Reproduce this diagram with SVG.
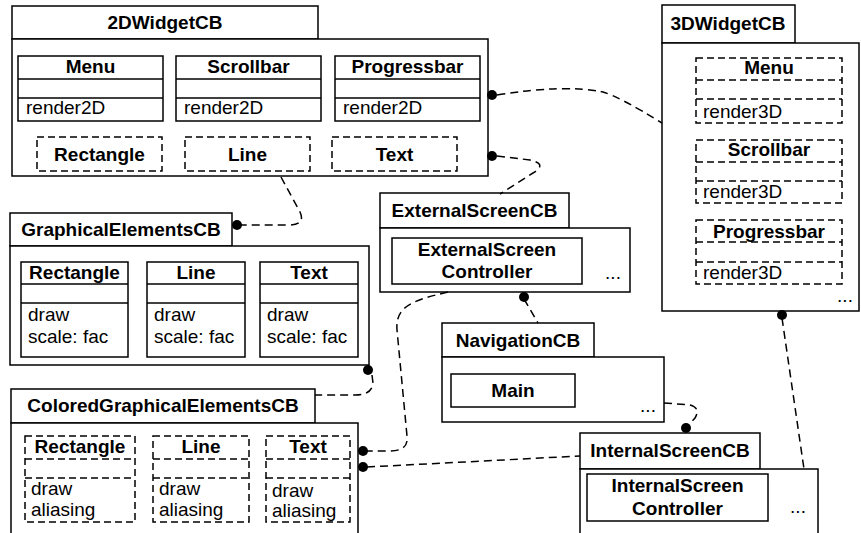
<svg xmlns="http://www.w3.org/2000/svg" width="861" height="533" viewBox="0 0 861 533">
<style>
.b{fill:#fff;stroke:#000;stroke-width:1.5}
.d{fill:#fff;stroke:#000;stroke-width:1.5;stroke-dasharray:7 4}
.l{stroke:#000;stroke-width:1.5;fill:none}
.dl{stroke:#000;stroke-width:1.5;fill:none;stroke-dasharray:7 4}
.c{stroke:#000;stroke-width:1.5;fill:none;stroke-dasharray:8 5}
.dot{fill:#000}
text{font-family:"Liberation Sans",Arial,Helvetica,sans-serif;font-size:19px;fill:#000}
.t{font-weight:bold;text-anchor:middle}
.e{text-anchor:middle}
</style>
<rect width="861" height="533" fill="#fff"/>

<g id="w2d">
<rect class="b" x="12" y="6" width="306" height="33"/>
<rect class="b" x="12" y="39" width="476" height="137"/>
<text class="t" x="165" y="29">2DWidgetCB</text>
<rect class="b" x="18" y="56" width="145" height="65"/><line class="l" x1="18" y1="79" x2="163" y2="79"/><line class="l" x1="18" y1="98" x2="163" y2="98"/>
<text class="t" x="90.5" y="73">Menu</text><text x="26" y="114">render2D</text>
<rect class="b" x="176" y="56" width="145" height="65"/><line class="l" x1="176" y1="79" x2="321" y2="79"/><line class="l" x1="176" y1="98" x2="321" y2="98"/>
<text class="t" x="248.5" y="73">Scrollbar</text><text x="184" y="114">render2D</text>
<rect class="b" x="335" y="56" width="145" height="65"/><line class="l" x1="335" y1="79" x2="480" y2="79"/><line class="l" x1="335" y1="98" x2="480" y2="98"/>
<text class="t" x="407.5" y="73">Progressbar</text><text x="343" y="114">render2D</text>
<rect class="d" x="37" y="137" width="125" height="34"/><text class="t" x="99.5" y="161">Rectangle</text>
<rect class="d" x="185" y="137" width="125" height="34"/><text class="t" x="247.5" y="161">Line</text>
<rect class="d" x="332" y="137" width="125" height="34"/><text class="t" x="394.5" y="161">Text</text>
</g>

<g id="w3d">
<rect class="b" x="662" y="5" width="133" height="38"/>
<rect class="b" x="662" y="43" width="197" height="268"/>
<text class="t" x="728" y="30">3DWidgetCB</text>
<rect class="d" x="696" y="58" width="146" height="65"/><line class="dl" x1="696" y1="80" x2="842" y2="80"/><line class="dl" x1="696" y1="99" x2="842" y2="99"/>
<text class="t" x="769" y="74">Menu</text><text x="703" y="118">render3D</text>
<rect class="d" x="696" y="140" width="146" height="63"/><line class="dl" x1="696" y1="162" x2="842" y2="162"/><line class="dl" x1="696" y1="181" x2="842" y2="181"/>
<text class="t" x="769" y="156">Scrollbar</text><text x="703" y="198">render3D</text>
<rect class="d" x="696" y="220" width="146" height="64"/><line class="dl" x1="696" y1="242" x2="842" y2="242"/><line class="dl" x1="696" y1="262" x2="842" y2="262"/>
<text class="t" x="769" y="238">Progressbar</text><text x="703" y="279">render3D</text>
<text class="e" x="845" y="302">...</text>
</g>

<g id="gecb">
<rect class="b" x="10" y="213" width="222" height="33"/>
<rect class="b" x="10" y="246" width="359" height="119"/>
<text class="t" x="121" y="236">GraphicalElementsCB</text>
<rect class="b" x="21" y="262" width="107" height="95"/><line class="l" x1="21" y1="284" x2="128" y2="284"/><line class="l" x1="21" y1="303" x2="128" y2="303"/>
<text class="t" x="74.5" y="279">Rectangle</text><text x="28" y="321">draw</text><text x="28" y="343">scale: fac</text>
<rect class="b" x="147" y="262" width="98" height="95"/><line class="l" x1="147" y1="284" x2="245" y2="284"/><line class="l" x1="147" y1="303" x2="245" y2="303"/>
<text class="t" x="196" y="279">Line</text><text x="154" y="321">draw</text><text x="154" y="343">scale: fac</text>
<rect class="b" x="260" y="262" width="98" height="95"/><line class="l" x1="260" y1="284" x2="358" y2="284"/><line class="l" x1="260" y1="303" x2="358" y2="303"/>
<text class="t" x="309" y="279">Text</text><text x="267" y="321">draw</text><text x="267" y="343">scale: fac</text>
</g>

<g id="escb">
<rect class="b" x="380" y="193" width="189" height="35"/>
<rect class="b" x="380" y="228" width="250" height="64"/>
<text class="t" x="474.5" y="217">ExternalScreenCB</text>
<rect class="b" x="392" y="238" width="190" height="46"/>
<text class="t" x="487" y="256">ExternalScreen</text><text class="t" x="487" y="278">Controller</text>
<text class="e" x="613" y="279">...</text>
</g>

<g id="navcb">
<rect class="b" x="442" y="323" width="152" height="34"/>
<rect class="b" x="442" y="357" width="222" height="65"/>
<text class="t" x="518" y="347">NavigationCB</text>
<rect class="b" x="451" y="374" width="124" height="33"/>
<text class="t" x="513" y="397">Main</text>
<text class="e" x="648" y="412">...</text>
</g>

<g id="cgecb">
<rect class="b" x="11" y="389" width="304" height="34"/>
<rect class="b" x="11" y="423" width="347" height="120"/>
<text class="t" x="163" y="412">ColoredGraphicalElementsCB</text>
<rect class="d" x="25" y="436" width="110" height="86"/><line class="dl" x1="25" y1="459" x2="135" y2="459"/><line class="dl" x1="25" y1="478" x2="135" y2="478"/>
<text class="t" x="80" y="453">Rectangle</text><text x="31" y="495">draw</text><text x="31" y="516">aliasing</text>
<rect class="d" x="153" y="436" width="96" height="86"/><line class="dl" x1="153" y1="459" x2="249" y2="459"/><line class="dl" x1="153" y1="478" x2="249" y2="478"/>
<text class="t" x="201" y="453">Line</text><text x="159" y="495">draw</text><text x="159" y="516">aliasing</text>
<rect class="d" x="266" y="436" width="84" height="86"/><line class="dl" x1="266" y1="459" x2="350" y2="459"/><line class="dl" x1="266" y1="478" x2="350" y2="478"/>
<text class="t" x="308" y="453">Text</text><text x="272" y="497">draw</text><text x="272" y="517">aliasing</text>
</g>

<g id="iscb">
<rect class="b" x="580" y="433" width="180" height="36"/>
<rect class="b" x="580" y="469" width="238" height="70"/>
<text class="t" x="670" y="457">InternalScreenCB</text>
<rect class="b" x="587" y="474" width="181" height="47"/>
<text class="t" x="677.5" y="492">InternalScreen</text><text class="t" x="677.5" y="515">Controller</text>
<text class="e" x="798" y="513">...</text>
</g>

<g id="connectors">
<path class="c" d="M497,95 Q565,84 603,92 Q620,97 662,123"/>
<path class="c" d="M497,156 L530,160 Q548,164 533,173 L500,194"/>
<path class="c" d="M281,177 L300,212 Q306,225 288,225 L241,225"/>
<path class="c" d="M372,375 L373,383 Q372,395 355,395 L315,395"/>
<path class="c" d="M448,292 C415,300 395,305 397,330 L407,436 Q409,451 390,451 L367,451"/>
<path class="c" d="M367,467 L580,456"/>
<path class="c" d="M524,299 L538,323"/>
<path class="c" d="M664,403 L690,405 Q701,408 695,418 L688,426"/>
<path class="c" d="M782,318 L804,469"/>
<circle class="dot" cx="492" cy="95" r="5"/>
<circle class="dot" cx="492" cy="156" r="5"/>
<circle class="dot" cx="237" cy="225" r="5"/>
<circle class="dot" cx="368" cy="370" r="5"/>
<circle class="dot" cx="363" cy="451" r="5"/>
<circle class="dot" cx="363" cy="467" r="5"/>
<circle class="dot" cx="524" cy="297" r="5"/>
<circle class="dot" cx="686" cy="428" r="5"/>
<circle class="dot" cx="782" cy="315" r="5"/>
</g>
</svg>
